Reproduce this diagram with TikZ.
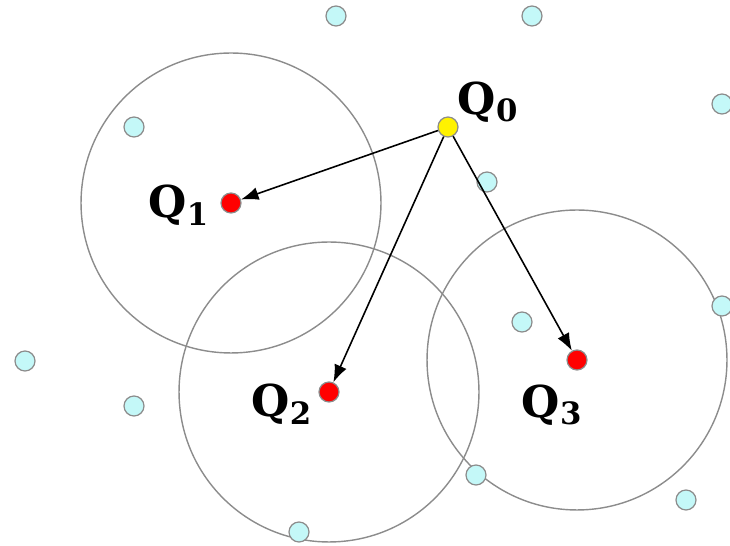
\documentclass[tikz,border=0pt]{standalone}
\usepackage{fontspec}
\setmainfont{DejaVu Serif}
\usepackage{tikz}
\usetikzlibrary{arrows.meta}
\definecolor{pointcyan}{HTML}{C4F8F8}

\begin{document}
\begin{tikzpicture}[
    x=0.02cm, y=-0.02cm,
    point/.style={circle, draw=gray!90, line width=0.7pt, fill=pointcyan, minimum size=0.4cm, inner sep=0pt},
    query/.style={circle, draw=gray!90, line width=0.7pt, fill=yellow, minimum size=0.4cm, inner sep=0pt},
    hit/.style={circle, draw=gray!90, line width=0.7pt, fill=red, minimum size=0.4cm, inner sep=0pt},
    searchring/.style={circle, draw=gray!90, line width=0.8pt, minimum size=6cm, inner sep=0pt},
    lbl/.style={font=\fontsize{25}{28}\selectfont\bfseries, inner sep=0pt},
    arrow/.style={-{Latex[length=3.5mm, width=2.6mm]}, line width=0.9pt}
]
\useasboundingbox (0,0) rectangle (730,546);

% search rings around the hits
\node[searchring] (r1) at (231,203) {};
\node[searchring] (r2) at (329,392) {};
\node[searchring] (r3) at (577,360) {};

% other data points
\node[point] (p1) at (336,16) {};
\node[point] (p2) at (532,16) {};
\node[point] (p3) at (722,104) {};
\node[point] (p4) at (134,127) {};
\node[point] (p5) at (487,182) {};
\node[point] (p6) at (522,322) {};
\node[point] (p7) at (722,306) {};
\node[point] (p8) at (25,361) {};
\node[point] (p9) at (134,406) {};
\node[point] (p10) at (476,475) {};
\node[point] (p11) at (686,500) {};
\node[point] (p12) at (299,532) {};

% query and its results
\node[query] (q0) at (448,127) {};
\node[hit] (q1) at (231,203) {};
\node[hit] (q2) at (329,392) {};
\node[hit] (q3) at (577,360) {};

\node[lbl] (l0) at (488,102) {Q\textsubscript{0}};
\node[lbl] (l1) at (179,205) {Q\textsubscript{1}};
\node[lbl] (l2) at (282,404) {Q\textsubscript{2}};
\node[lbl] (l3) at (552,405) {Q\textsubscript{3}};

\draw[arrow] (q0) -- (q1);
\draw[arrow] (q0) -- (q2);
\draw[arrow] (q0) -- (q3);
\end{tikzpicture}
\end{document}
